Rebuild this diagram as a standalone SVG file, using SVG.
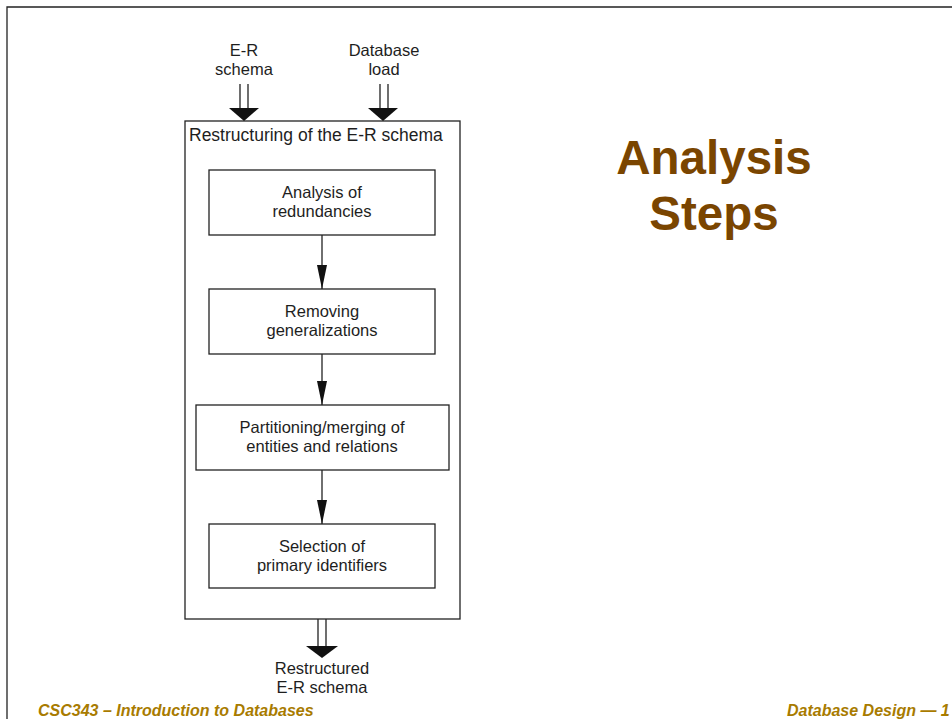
<svg xmlns="http://www.w3.org/2000/svg" width="952" height="719" viewBox="0 0 952 719">
<defs>
<style>
.t{font-family:"Liberation Sans",Arial,sans-serif;font-size:16.5px;fill:#1e1e1e;text-anchor:middle}
.box{fill:#fff;stroke:#222;stroke-width:1.3}
.ln{stroke:#222;stroke-width:1.3;fill:none}
.head{fill:#111}
.title{font-family:"Liberation Sans",Arial,sans-serif;font-weight:bold;font-size:47.5px;fill:#7a4500;text-anchor:middle}
.foot{font-family:"Liberation Sans",Arial,sans-serif;font-weight:bold;font-style:italic;font-size:16px;fill:#a87b00}
</style>
<marker id="ah" viewBox="0 0 24 10" refX="24" refY="5" markerWidth="24" markerHeight="10" markerUnits="userSpaceOnUse" orient="auto">
<path d="M0,0 L24,5 L0,10 Z" fill="#111"/>
</marker>
</defs>
<rect width="952" height="719" fill="#fff"/>
<path d="M7,719 V7 H952" class="ln" stroke-width="1.5"/>

<g id="outer">
<rect class="box" x="185" y="121" width="275" height="498"/>
<text class="t" x="189" y="141" style="text-anchor:start;font-size:17.5px">Restructuring of the E-R schema</text>
</g>

<g id="in-er">
<text class="t" x="244" y="56">E-R</text>
<text class="t" x="244" y="75">schema</text>
</g>
<g id="in-load">
<text class="t" x="384" y="56">Database</text>
<text class="t" x="384" y="75">load</text>
</g>

<g id="n1">
<rect class="box" x="209" y="170" width="226" height="65"/>
<text class="t" x="322" y="198">Analysis of</text>
<text class="t" x="322" y="217">redundancies</text>
</g>
<g id="n2">
<rect class="box" x="209" y="289" width="226" height="65"/>
<text class="t" x="322" y="317">Removing</text>
<text class="t" x="322" y="336">generalizations</text>
</g>
<g id="n3">
<rect class="box" x="196" y="405" width="253" height="65"/>
<text class="t" x="322" y="433">Partitioning/merging of</text>
<text class="t" x="322" y="452">entities and relations</text>
</g>
<g id="n4">
<rect class="box" x="209" y="524" width="226" height="64"/>
<text class="t" x="322" y="552">Selection of</text>
<text class="t" x="322" y="571">primary identifiers</text>
</g>

<g id="out">
<text class="t" x="322" y="674">Restructured</text>
<text class="t" x="322" y="693">E-R schema</text>
</g>

<g id="connectors">
<line class="ln" x1="322" y1="235" x2="322" y2="289" marker-end="url(#ah)"/>
<line class="ln" x1="322" y1="354" x2="322" y2="405" marker-end="url(#ah)"/>
<line class="ln" x1="322" y1="470" x2="322" y2="524" marker-end="url(#ah)"/>
<path class="ln" d="M240,84 V110 M248,84 V110"/>
<path class="head" d="M229,108 H259 L244,121 Z"/>
<path class="ln" d="M380,84 V110 M388,84 V110"/>
<path class="head" d="M368,108 H398 L383,121 Z"/>
<path class="ln" d="M318,619 V648 M326,619 V648"/>
<path class="head" d="M306,646 H338 L322,658 Z"/>
</g>

<text class="title" x="714" y="174">Analysis</text>
<text class="title" x="714" y="230">Steps</text>

<text class="foot" x="38" y="716">CSC343 – Introduction to Databases</text>
<text class="foot" x="787" y="716">Database Design — 1</text>
</svg>
